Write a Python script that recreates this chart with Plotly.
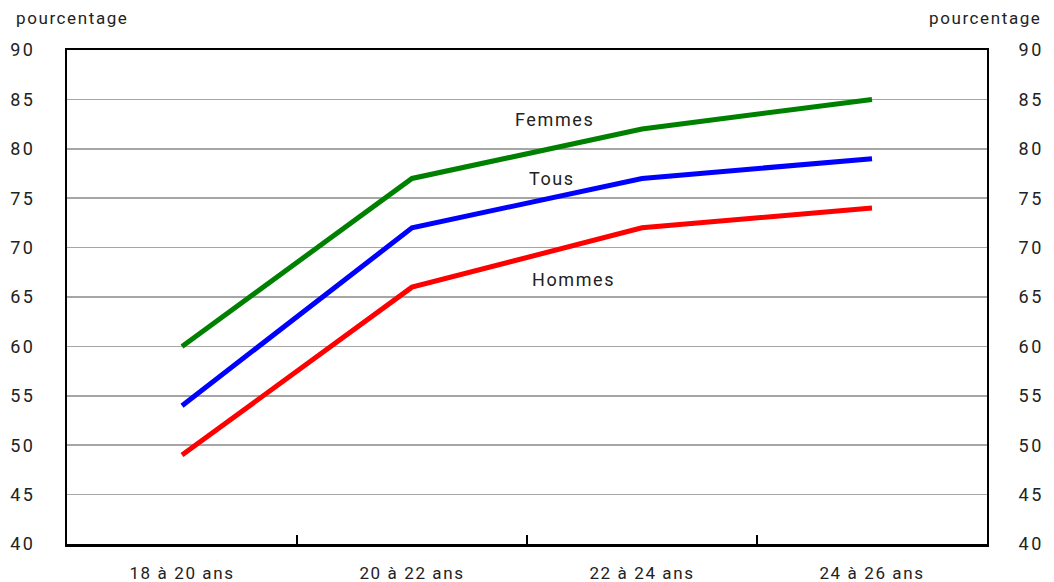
import plotly.graph_objects as go

categories = ["18 à 20 ans", "20 à 22 ans", "22 à 24 ans", "24 à 26 ans"]
femmes = [60, 77, 82, 85]
tous = [54, 72, 77, 79]
hommes = [49, 66, 72, 74]
y_ticks = [40, 45, 50, 55, 60, 65, 70, 75, 80, 85, 90]
y_title = "pourcentage"
labels = [("Femmes", 1.62, 83.0), ("Tous", 1.61, 77.0), ("Hommes", 1.70, 66.8)]

FONT = "Roboto, Liberation Sans, sans-serif"


def sp(t, s=1.6):
    return f'<span style="letter-spacing:{s}px">{t}</span>'


fig = go.Figure()
for name, vals, col in [("Hommes", hommes, "#FF0000"), ("Tous", tous, "#0000FF"), ("Femmes", femmes, "#008000")]:
    fig.add_trace(go.Scatter(x=categories, y=vals, mode="lines", name=name,
                             line=dict(color=col, width=5), hoverinfo="skip"))

# invisible trace to show the right axis
fig.add_trace(go.Scatter(x=categories, y=tous, mode="lines", yaxis="y2",
                         line=dict(width=0), showlegend=False, hoverinfo="skip", opacity=0))

yaxis_common = dict(
    range=[40, 90], tickvals=y_ticks, ticktext=[sp(str(v), 2.5) for v in y_ticks],
    showgrid=True, gridcolor="#A6A6A6", gridwidth=1.5,
    showline=True, linecolor="black", linewidth=2, ticks="",
    tickfont=dict(family=FONT, size=18, color="#222"), zeroline=False,
    ticklabelstandoff=26, fixedrange=True, automargin=False,
)

fig.update_layout(
    width=1054, height=582,
    margin=dict(l=67, r=67, t=50, b=38, autoexpand=False),
    paper_bgcolor="white", plot_bgcolor="white",
    showlegend=False,
    font=dict(family=FONT, size=17, color="#222"),
    xaxis=dict(
        type="category", tickvals=categories, ticktext=[sp(c) for c in categories],
        range=[-0.5, 3.5], ticks="inside", tickson="boundaries", ticklen=9, tickwidth=2,
        tickcolor="black", showline=True, linecolor="black", linewidth=2.5, mirror=True,
        showgrid=False, tickfont=dict(family=FONT, size=17, color="#222"),
        ticklabelstandoff=12, automargin=False, fixedrange=True,
    ),
    yaxis=dict(side="left", mirror=True, **yaxis_common),
    yaxis2=dict(side="right", overlaying="y", matches="y", **{k: v for k, v in yaxis_common.items() if k not in ("range",)}),
)

fig.add_annotation(xref="paper", yref="paper", x=-0.058, y=1.0, yshift=32, xanchor="left", yanchor="middle",
                   text=sp(y_title), showarrow=False, font=dict(family=FONT, size=17, color="#222"))
fig.add_annotation(xref="paper", yref="paper", x=1.062, y=1.0, yshift=32, xanchor="right", yanchor="middle",
                   text=sp(y_title), showarrow=False, font=dict(family=FONT, size=17, color="#222"))

for txt, xv, yv in labels:
    fig.add_annotation(x=xv, y=yv, text=sp(txt), showarrow=False,
                       font=dict(family=FONT, size=18, color="#222"))

fig.write_html("out.html", config={"displayModeBar": False, "staticPlot": True},
               post_script="document.body.style.margin='0';document.body.style.padding='0';document.body.style.overflow='hidden';")
